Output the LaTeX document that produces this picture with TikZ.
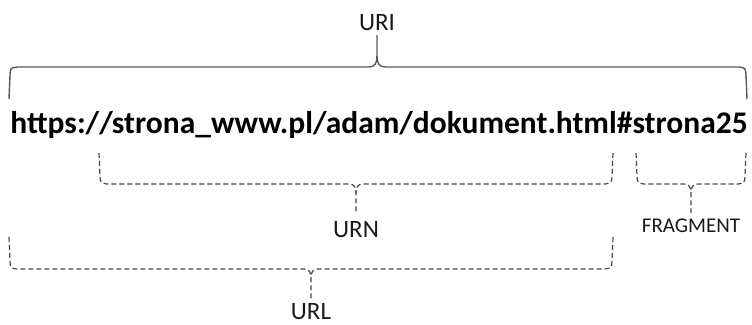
\documentclass[tikz,border=0pt]{standalone}
\usepackage{fontspec}
\setmainfont{Carlito}
\begin{document}
\begin{tikzpicture}[x=1pt,y=-1pt,
  solidbrace/.style={draw=black!65,line width=1.4pt},
  dashbrace/.style={draw=black!72,line width=1.2pt,dash pattern=on 5pt off 3pt},
  lbl/.style={inner sep=0pt,anchor=base,font=\fontsize{25}{30}\selectfont,text=black!90},
  smalllbl/.style={inner sep=0pt,anchor=base,font=\fontsize{21}{25}\selectfont,text=black!90},
  urltext/.style={inner sep=0pt,anchor=base,font=\fontsize{31.5}{37}\selectfont\bfseries}]
\useasboundingbox (0,0) rectangle (752,324);
% labels
\node[lbl] (uri) at (377,30) {URI};
\node[urltext] (addr) at (379,133) {https://strona\_www.pl/adam/dokument.html\#strona25};
\node[lbl] (urn) at (356,237) {URN};
\node[smalllbl] (frag) at (691,232) {FRAGMENT};
\node[lbl] (url) at (311,319) {URL};
% URI brace
\coordinate (uritip) at (377,35);
\draw[solidbrace] (9,99) -- (10,75) .. controls (10.5,68) .. (17,67) -- (369,67)
  .. controls (375,67) and (377,63) .. (377,56) -- (uritip);
\draw[solidbrace] (747,99) -- (746,75) .. controls (745.5,68) .. (739,67) -- (385,67)
  .. controls (379,67) and (377,63) .. (377,56);
% URN brace
\coordinate (urntip) at (356,213);
\draw[dashbrace] (99,153) -- (100,176) .. controls (100.5,183) .. (107,184) -- (349,184)
  .. controls (354,184) and (356,187) .. (356,193) -- (urntip);
\draw[dashbrace] (613,153) -- (612,176) .. controls (611.5,183) .. (605,184) -- (363,184)
  .. controls (358,184) and (356,187) .. (356,193);
% FRAGMENT brace
\coordinate (fragtip) at (691,213);
\draw[dashbrace] (636,153) -- (637,176) .. controls (637.5,183) .. (644,184) -- (684,184)
  .. controls (689,184) and (691,187) .. (691,193) -- (fragtip);
\draw[dashbrace] (746,153) -- (745,176) .. controls (744.5,183) .. (738,184) -- (698,184)
  .. controls (693,184) and (691,187) .. (691,193);
% URL brace
\coordinate (urltip) at (311,300);
\draw[dashbrace] (9,237) -- (10,261) .. controls (10.5,268) .. (17,269) -- (304,269)
  .. controls (309,269) and (311,272) .. (311,278) -- (urltip);
\draw[dashbrace] (613,237) -- (612,261) .. controls (611.5,268) .. (605,269) -- (318,269)
  .. controls (313,269) and (311,272) .. (311,278);
\end{tikzpicture}
\end{document}
